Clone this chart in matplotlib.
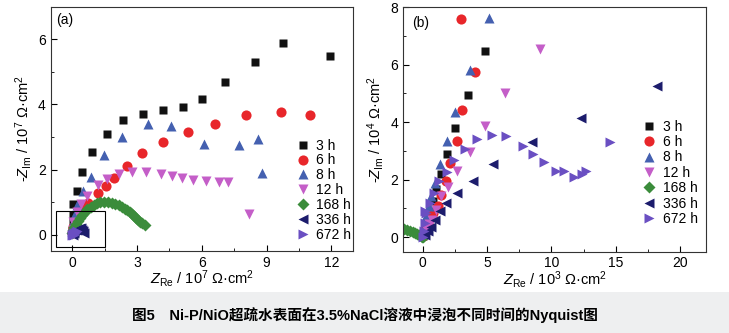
import matplotlib
matplotlib.use("Agg")
import matplotlib.pyplot as plt
from matplotlib.patches import Rectangle

plt.rcParams['font.family'] = ['Liberation Sans', 'Noto Sans CJK SC', 'DejaVu Sans']
plt.rcParams['mathtext.fontset'] = 'custom'
plt.rcParams['mathtext.rm'] = 'Liberation Sans'
plt.rcParams['mathtext.it'] = 'Liberation Sans:italic'
plt.rcParams['axes.unicode_minus'] = False

labels = ["3 h", "6 h", "8 h", "12 h", "168 h", "336 h", "672 h"]
markers = ["s", "o", "^", "v", "D", "<", ">"]
colors = ["#111111", "#e8262a", "#4460b0", "#c45ec8", "#3b8c3b", "#1c1c6c", "#6a4fc2"]

# (a) Z in 10^7 ohm cm^2
a_3h_x = [0.0, 0.01, 0.02, 0.03, 0.2, 0.43, 0.9, 1.6, 2.36, 3.28, 4.22, 5.12, 6.0, 7.05, 8.44, 9.74, 11.92]
a_3h_y = [0.1, 0.35, 0.6, 0.95, 1.33, 1.91, 2.55, 3.08, 3.51, 3.72, 3.83, 3.93, 4.16, 4.68, 5.3, 5.9, 5.49]
a_6h_x = [0.0, 0.05, 0.15, 0.3, 0.5, 0.75, 1.2, 1.55, 1.95, 2.55, 3.25, 4.2, 5.35, 6.6, 8.05, 9.65, 11.0]
a_6h_y = [0.05, 0.25, 0.45, 0.62, 0.8, 0.97, 1.27, 1.5, 1.75, 2.1, 2.5, 2.85, 3.16, 3.4, 3.67, 3.76, 3.66]
a_8h_x = [0.0, 0.05, 0.12, 0.2, 0.5, 0.85, 1.45, 2.3, 3.5, 4.55, 6.1, 7.7, 8.6, 8.8]
a_8h_y = [0.1, 0.4, 0.65, 0.9, 1.33, 1.78, 2.45, 3.0, 3.4, 3.33, 2.78, 2.75, 2.93, 1.9]
a_12h_x = [0.02, 0.05, 0.2, 0.4, 0.7, 1.2, 1.6, 2.15, 2.75, 3.4, 4.1, 4.6, 5.1, 5.6, 6.2, 6.8, 7.2, 8.2]
a_12h_y = [0.15, 0.4, 0.7, 0.95, 1.2, 1.52, 1.72, 1.85, 1.93, 1.93, 1.87, 1.8, 1.73, 1.67, 1.65, 1.63, 1.61, 0.64]
a_168h_x = [0.0, 0.05, 0.1, 0.18, 0.25, 0.35, 0.45, 0.57, 0.7, 0.85, 1.0, 1.15, 1.3, 1.47, 1.65, 1.82, 2.0,
            2.15, 2.3, 2.43, 2.55, 2.65, 2.75, 2.85, 2.95, 3.05, 3.15, 3.25, 3.35]
a_168h_y = [0.05, 0.15, 0.25, 0.33, 0.42, 0.51, 0.6, 0.69, 0.78, 0.86, 0.92, 0.97, 1.0, 1.01, 1.01, 0.98, 0.95,
            0.9, 0.85, 0.8, 0.75, 0.7, 0.65, 0.58, 0.52, 0.46, 0.4, 0.35, 0.3]
a_336h_x = [0.02, 0.06, 0.1, 0.15, 0.2, 0.25, 0.3, 0.35, 0.4, 0.45, 0.5, 0.55]
a_336h_y = [0.0, 0.05, 0.1, 0.13, 0.16, 0.18, 0.19, 0.2, 0.2, 0.16, 0.1, 0.04]
a_672h_x = [0.0, 0.02, 0.04, 0.06, 0.08, 0.1, 0.13, 0.16, 0.2]
a_672h_y = [-0.02, 0.0, 0.03, 0.06, 0.02, -0.01, 0.04, 0.08, 0.1]

# (b) Z in 10^3 ohm cm^2 (Re) and 10^4 ohm cm^2 (Im)
b_3h_x = [0.05, 0.2, 0.4, 0.6, 0.8, 1.03, 1.42, 1.88, 2.53, 3.51, 4.85]
b_3h_y = [0.05, 0.3, 0.6, 0.9, 1.25, 1.67, 2.2, 2.89, 3.79, 4.95, 6.48]
b_6h_x = [0.05, 0.2, 0.4, 0.6, 0.8, 1.16, 1.42, 1.78, 2.14, 2.66, 3.02, 4.03, 2.99]
b_6h_y = [0.05, 0.3, 0.5, 0.7, 0.85, 1.07, 1.47, 1.96, 2.58, 3.36, 4.41, 5.75, 7.61]
b_8h_x = [0.05, 0.15, 0.3, 0.46, 0.67, 0.95, 1.32, 1.88, 2.5, 3.64, 5.16]
b_8h_y = [0.1, 0.4, 0.72, 1.07, 1.42, 1.88, 2.54, 3.33, 4.34, 5.82, 7.62]
b_12h_x = [0.1, 0.3, 0.5, 0.72, 1.06, 1.42, 1.94, 2.66, 3.64, 4.85, 6.4, 9.11]
b_12h_y = [0.1, 0.3, 0.45, 0.6, 0.95, 1.42, 1.74, 2.29, 2.98, 3.87, 5.03, 6.55]
b_168h_x = [-1.47, -1.2, -0.95, -0.75, -0.57, -0.43, -0.31, -0.2, -0.13, -0.05, 0.0]
b_168h_y = [0.28, 0.24, 0.21, 0.17, 0.14, 0.12, 0.09, 0.07, 0.05, 0.02, 0.0]
b_336h_x = [0.15, 0.39, 0.67, 0.98, 1.37, 1.83, 2.66, 3.9, 5.45, 8.5, 12.3, 18.2]
b_336h_y = [0.08, 0.2, 0.37, 0.6, 0.9, 1.2, 1.53, 1.96, 2.55, 3.3, 4.16, 5.25]
b_672h_x = [0.03, 0.08, 0.15, 0.2, 0.28, 0.54, 0.85, 1.24, 1.88, 2.45, 3.3, 4.2, 5.4, 6.48, 7.77, 8.59,
            9.42, 10.35, 11.0, 11.74, 12.4, 12.72, 14.53]
b_672h_y = [0.02, 0.2, 0.49, 0.9, 0.84, 1.18, 1.53, 1.94, 2.25, 2.67, 3.06, 3.41, 3.56, 3.53, 3.18, 2.9,
            2.63, 2.3, 2.3, 2.11, 2.2, 2.29, 3.3]

a_sets = [(a_3h_x, a_3h_y), (a_6h_x, a_6h_y), (a_8h_x, a_8h_y), (a_12h_x, a_12h_y),
          (a_168h_x, a_168h_y), (a_336h_x, a_336h_y), (a_672h_x, a_672h_y)]
b_sets = [(b_3h_x, b_3h_y), (b_6h_x, b_6h_y), (b_8h_x, b_8h_y), (b_12h_x, b_12h_y),
          (b_168h_x, b_168h_y), (b_336h_x, b_336h_y), (b_672h_x, b_672h_y)]

caption = "图5　Ni-P/NiO超疏水表面在3.5%NaCl溶液中浸泡不同时间的Nyquist图"

W, H = 729, 333
fig = plt.figure(figsize=(W / 100, H / 100), dpi=100)
fig.patches.append(Rectangle((0, 0), 1, 41 / H, transform=fig.transFigure,
                             facecolor="#eeeff0", edgecolor="none", zorder=0))
fig.text(0.5, 18 / H, caption, ha="center", va="center", fontsize=10.5, fontweight="bold")

def px_axes(l, t, r, b):
    return fig.add_axes([l / W, 1 - b / H, (r - l) / W, (b - t) / H])

ax_a = px_axes(50.7, 6.7, 353, 251)
ax_b = px_axes(403.3, 7.3, 706, 251.5)

for ax, sets in [(ax_a, a_sets), (ax_b, b_sets)]:
    for (x, y), m, c, lab in zip(sets, markers, colors, labels):
        ms = 6.3 if m in "sD" else 7.3
        ax.plot(x, y, ls="none", marker=m, color=c, ms=ms, mec="none", label=lab, clip_on=True)
    ax.tick_params(direction="in", which="both", labelsize=10, top=False, right=False)
    ax.tick_params(which="major", length=4)
    ax.tick_params(which="minor", length=2)
    for s in ax.spines.values():
        s.set_linewidth(0.8)
        s.set_color("#333333")

ax_a.set_xlim(-1, 13)
ax_a.set_ylim(-0.5, 7)
ax_a.set_xticks([0, 3, 6, 9, 12])
ax_a.set_xticks([1.5, 4.5, 7.5, 10.5], minor=True)
ax_a.set_yticks([0, 2, 4, 6])
ax_a.set_yticks([1, 3, 5], minor=True)
ax_a.add_patch(Rectangle((-0.76, -0.38), 2.27, 1.12, fill=False, ec="black", lw=0.8, zorder=5))
ax_a.text(0.018, 0.975, "(a)", transform=ax_a.transAxes, ha="left", va="top", fontsize=10)
ax_a.set_xlabel(r"$\it{Z}_{\rm Re}$ / 10$^{7}$ Ω·cm$^{2}$", fontsize=10.5, labelpad=-1)
ax_a.set_ylabel(r"-$\it{Z}_{\rm Im}$ / 10$^{7}$ Ω·cm$^{2}$", fontsize=10.5, labelpad=3)

ax_b.set_xlim(-1.5, 22)
ax_b.set_ylim(-0.5, 8)
ax_b.set_xticks([0, 5, 10, 15, 20])
ax_b.set_xticks([2.5, 7.5, 12.5, 17.5], minor=True)
ax_b.set_yticks([0, 2, 4, 6, 8])
ax_b.set_yticks([1, 3, 5, 7], minor=True)
ax_b.text(0.03, 0.965, "(b)", transform=ax_b.transAxes, ha="left", va="top", fontsize=10)
ax_b.set_xlabel(r"$\it{Z}_{\rm Re}$ / 10$^{3}$ Ω·cm$^{2}$", fontsize=10.5, labelpad=-1)
ax_b.set_ylabel(r"-$\it{Z}_{\rm Im}$ / 10$^{4}$ Ω·cm$^{2}$", fontsize=10.5, labelpad=3)

leg_kw = dict(frameon=False, fontsize=10, handlelength=1.0, handletextpad=0.5,
              borderpad=0, borderaxespad=0, loc="upper left")
ax_a.legend(bbox_to_anchor=(0.81, 0.46), labelspacing=0.06, **leg_kw)
ax_b.legend(bbox_to_anchor=(0.79, 0.54), labelspacing=0.1, **leg_kw)

fig.savefig("out.png", dpi=100)
